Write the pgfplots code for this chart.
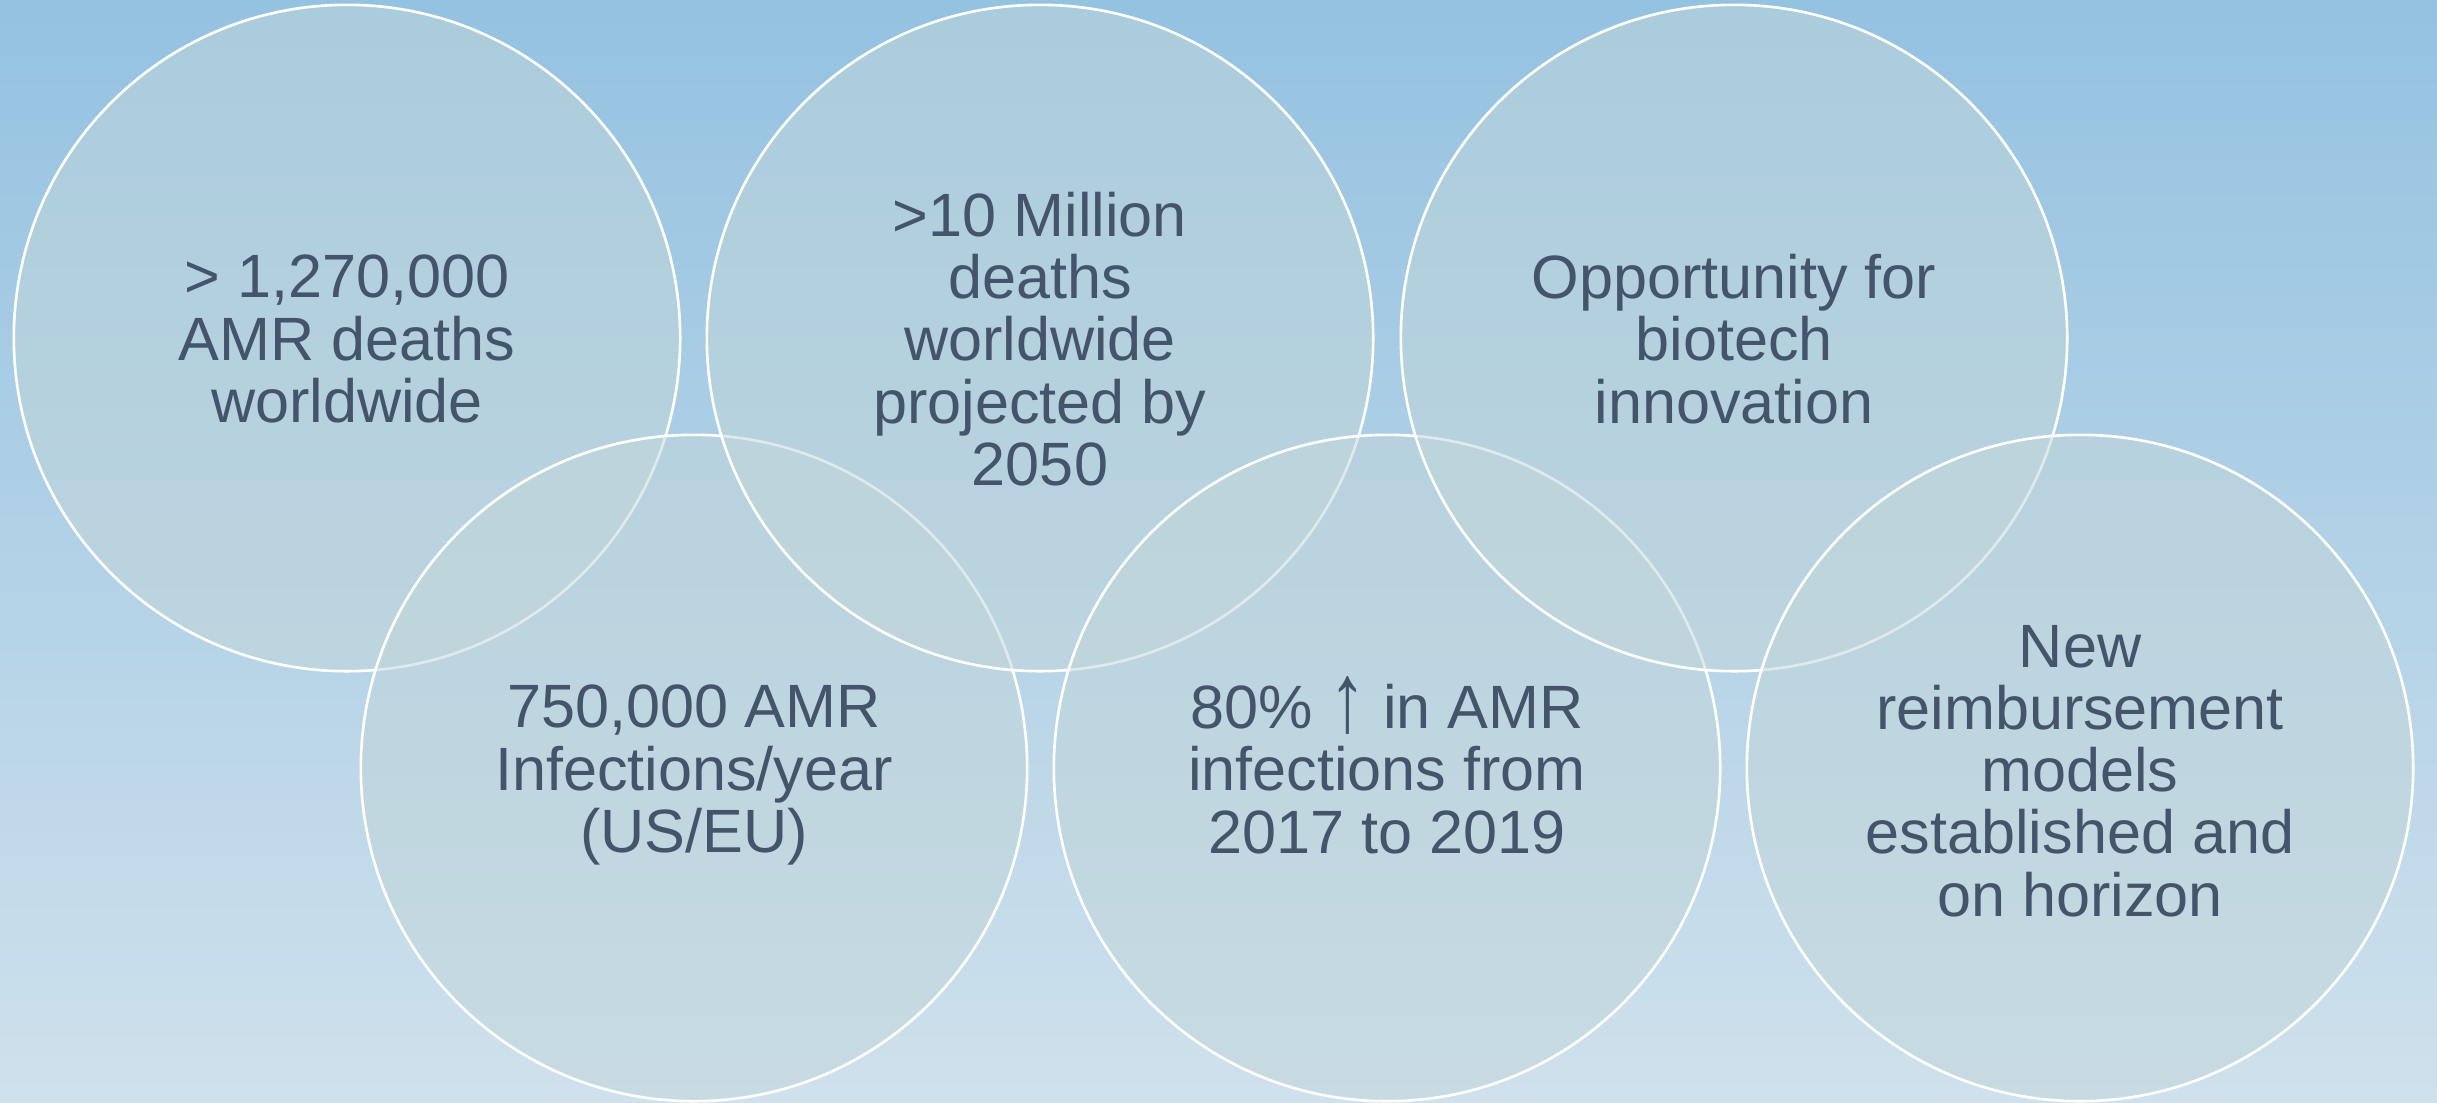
\documentclass[border=0pt]{standalone}
\usepackage{fontspec}
\setmainfont{Liberation Sans}
\usepackage{graphicx}
\usepackage{pgfplots}
\pgfplotsset{compat=1.18}
\definecolor{bgtop}{RGB}{148,194,225}
\definecolor{bgbot}{RGB}{207,225,236}
\definecolor{circfill}{RGB}{194,214,217}
\definecolor{txt}{RGB}{68,84,106}
\newcommand{\uparr}{\smash{\raisebox{-0.05em}{\scalebox{1.2}[1.6]{↑}}}}
\begin{document}
\begin{tikzpicture}
\begin{axis}[
  width=24.37cm, height=11.02cm, scale only axis,
  xmin=0, xmax=2437, ymin=0, ymax=1102, y dir=reverse,
  axis line style={draw=none}, ticks=none,
  axis background/.style={shade, top color=bgtop, bottom color=bgbot, draw=none},
  clip=false,
]
% circles: centre x, centre y (pixels), drawn in layering order
\addplot[only marks, mark=*, mark size=94.8pt,
  mark options={fill=circfill, fill opacity=0.5, draw=white, draw opacity=1, line width=0.75pt}]
  coordinates {(347,338) (694,768) (1040,338) (1387,768) (1734,338) (2080,768)};
% labels
\addplot[only marks, mark=none, point meta=explicit symbolic,
  nodes near coords={\pgfplotspointmeta},
  nodes near coords align={center},
  every node near coord/.append style={anchor=center, align=center, text=txt,
    font=\fontsize{17.4pt}{17.7pt}\selectfont}]
  coordinates {
   (347,339) [{> 1,270,000\\AMR deaths\\worldwide}]
   (1040,339) [{>10 Million\\deaths\\worldwide\\projected by\\2050}]
   (1734,339) [{Opportunity for\\biotech\\innovation}]
   (694,775) [{750,000 AMR\\Infections/year\\(US/EU)}]
   (1387,769) [{80\% \uparr{} in AMR\\infections from\\2017 to 2019}]
   (2080,771) [{New\\reimbursement\\models\\established and\\on horizon}]
  };
\end{axis}
\pgfresetboundingbox
\path[use as bounding box] (current axis.south west) rectangle (current axis.north east);
\end{tikzpicture}
\end{document}
